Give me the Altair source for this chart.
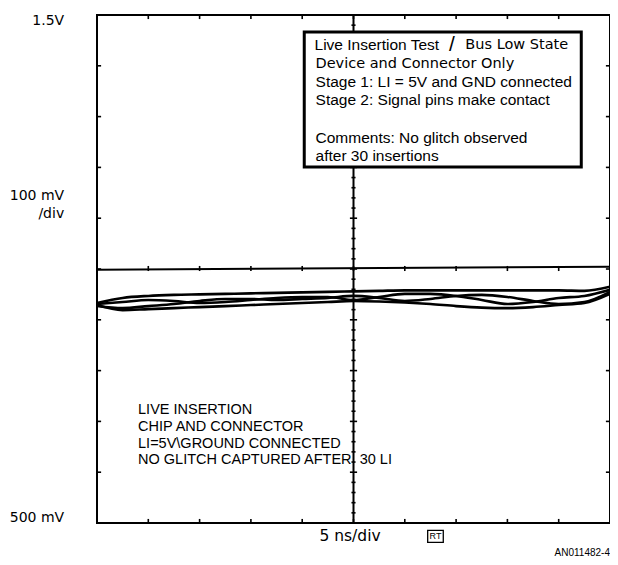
import altair as alt
import pandas as pd

# ---- data (time in ns, level in volts) ----
T_NS = [0, 2.5, 5, 7.5, 10, 12.5, 15, 17.5, 20, 22.5, 25, 27.5, 30, 32.5, 35, 37.5, 40, 42.5, 45, 47.5, 50]
TRACE_A = [0.933, 0.943, 0.947, 0.949, 0.950, 0.951, 0.952, 0.953, 0.954, 0.955, 0.956, 0.957, 0.958, 0.958, 0.958, 0.958, 0.958, 0.958, 0.958, 0.957, 0.965]
TRACE_B = [0.929, 0.919, 0.921, 0.923, 0.925, 0.927, 0.929, 0.931, 0.933, 0.935, 0.937, 0.936, 0.934, 0.931, 0.927, 0.924, 0.923, 0.925, 0.929, 0.933, 0.951]
TRACE_C = [0.931, 0.935, 0.939, 0.937, 0.933, 0.935, 0.939, 0.943, 0.945, 0.945, 0.939, 0.945, 0.951, 0.951, 0.947, 0.939, 0.931, 0.935, 0.943, 0.947, 0.959]
TRACE_D = [0.927, 0.923, 0.927, 0.931, 0.937, 0.941, 0.941, 0.939, 0.941, 0.943, 0.947, 0.943, 0.937, 0.941, 0.947, 0.949, 0.945, 0.937, 0.931, 0.935, 0.955]
TRACE_NAMES = ["A", "B", "C", "D"]

MARKER_T = [0, 50]
MARKER_V = [0.9985, 1.0045]

X_DOMAIN = [0, 50]
Y_DOMAIN = [0.5, 1.5]
X_TICKS = [5, 10, 15, 20, 25, 30, 35, 40, 45]
Y_TICKS = [0.6, 0.7, 0.8, 0.9, 1.0, 1.1, 1.2, 1.3, 1.4]
CENTER_T = 25

BOX_REGULAR = ["Live Insertion Test", "Stage 1: LI = 5V and GND connected",
               "Stage 2: Signal pins make contact", "Comments: No glitch observed",
               "after 30 insertions"]
BOX_THIN = ["Bus Low State", "Device and Connector Only"]
SLASH = "/"
LOWER_TEXT = ["LIVE INSERTION", "CHIP AND CONNECTOR", "LI=5V\\GROUND CONNECTED",
              "NO GLITCH CAPTURED AFTER", "30 LI"]
Y_LABELS = ["1.5V", "100 mV", "/div", "500 mV"]
X_LABEL = "5 ns/div"
FIG_ID = "AN011482-4"

xs = alt.Scale(domain=X_DOMAIN, nice=False, zero=False)
ys = alt.Scale(domain=Y_DOMAIN, nice=False, zero=False)


def X(f):
    return alt.X(f, type="quantitative", scale=xs, axis=None)


def Y(f):
    return alt.Y(f, type="quantitative", scale=ys, axis=None)


# traces
rows = []
for name, vals in zip(TRACE_NAMES, [TRACE_A, TRACE_B, TRACE_C, TRACE_D]):
    for t, v in zip(T_NS, vals):
        rows.append({"t": t, "v": v, "trace": name})
traces_df = pd.DataFrame(rows)

traces = alt.Chart(traces_df).mark_line(
    color="black", strokeWidth=2.6, interpolate="monotone"
).encode(x=X("t"), y=Y("v"), detail="trace:N")

marker = alt.Chart(pd.DataFrame({"t": MARKER_T, "v": MARKER_V})).mark_line(
    color="black", strokeWidth=2
).encode(x=X("t"), y=Y("v"))

center = alt.Chart(pd.DataFrame({"x": [CENTER_T], "y": [Y_DOMAIN[0]], "y2": [Y_DOMAIN[1]]})).mark_rule(
    color="black", strokeWidth=2
).encode(x=X("x"), y=Y("y"), y2="y2")

# graticule ticks
tick_rows = []
dx = 0.4   # ns (~4 px)
dy = 0.008  # V (~4 px)
for t in X_TICKS:
    tick_rows.append({"x": t, "x2": t, "y": Y_DOMAIN[0], "y2": Y_DOMAIN[0] + dy})
    tick_rows.append({"x": t, "x2": t, "y": Y_DOMAIN[1], "y2": Y_DOMAIN[1] - dy})
    tick_rows.append({"x": t, "x2": t, "y": 1.0 - dy / 2, "y2": 1.0 + dy / 2 + 0.002})
for v in Y_TICKS:
    tick_rows.append({"x": X_DOMAIN[0], "x2": X_DOMAIN[0] + dx, "y": v, "y2": v})
    tick_rows.append({"x": X_DOMAIN[1], "x2": X_DOMAIN[1] - dx, "y": v, "y2": v})
for i in range(1, 50):
    v = round(Y_DOMAIN[0] + 0.02 * i, 3)
    w = 0.35 if i % 5 == 0 else 0.2
    tick_rows.append({"x": CENTER_T - w, "x2": CENTER_T + w, "y": v, "y2": v})
ticks = alt.Chart(pd.DataFrame(tick_rows)).mark_rule(color="black", strokeWidth=1.6).encode(
    x=X("x"), x2="x2", y=Y("y"), y2="y2"
)

# annotation box
box = alt.Chart(pd.DataFrame({"x": [20.2], "x2": [47.2], "y": [1.2008], "y2": [1.4665]})).mark_rect(
    fill="white", stroke="black", strokeWidth=3
).encode(x=X("x"), x2="x2", y=Y("y"), y2="y2")

box_reg = pd.DataFrame({
    "x": [21.2, 21.3, 21.3, 21.3, 21.3],
    "y": [1.441, 1.368, 1.3327, 1.2579, 1.2224],
    "text": BOX_REGULAR,
})
box_thin = pd.DataFrame({
    "x": [35.9, 21.3],
    "y": [1.441, 1.4035],
    "text": BOX_THIN,
})
box_text1 = alt.Chart(box_reg).mark_text(
    align="left", baseline="middle", font="Liberation Sans", fontSize=15.5, color="black"
).encode(x=X("x"), y=Y("y"), text="text:N")
box_text2 = alt.Chart(box_thin).mark_text(
    align="left", baseline="middle", font="DejaVu Sans", fontSize=14.5, color="black"
).encode(x=X("x"), y=Y("y"), text="text:N")
slash = alt.Chart(pd.DataFrame({"x": [34.6], "y": [1.441], "text": [SLASH]})).mark_text(
    align="center", baseline="middle", font="Liberation Sans", fontSize=21, color="black"
).encode(x=X("x"), y=Y("y"), text="text:N")

lower_df = pd.DataFrame({
    "x": [4.0, 4.0, 4.0, 4.0, 25.6],
    "y": [0.7224, 0.689, 0.6555, 0.624, 0.624],
    "text": LOWER_TEXT,
})
lower_text = alt.Chart(lower_df).mark_text(
    align="left", baseline="middle", font="Liberation Sans", fontSize=14.5, color="black"
).encode(x=X("x"), y=Y("y"), text="text:N")

ylab_df = pd.DataFrame({"x": [-3.2] * 4, "y": [1.488, 1.1437, 1.1083, 0.5098], "text": Y_LABELS})
ylab = alt.Chart(ylab_df).mark_text(
    align="right", baseline="middle", font="DejaVu Sans", fontSize=14, color="black"
).encode(x=X("x"), y=Y("y"), text="text:N")

xlab = alt.Chart(pd.DataFrame({"x": [24.66], "y": [0.4744], "text": [X_LABEL]})).mark_text(
    align="center", baseline="middle", font="DejaVu Sans", fontSize=15.5, color="black"
).encode(x=X("x"), y=Y("y"), text="text:N")

rt_box = alt.Chart(pd.DataFrame({"x": [32.23], "x2": [33.75], "y": [0.4855], "y2": [0.4620]})).mark_rect(
    fill="white", stroke="black", strokeWidth=1.3
).encode(x=X("x"), x2="x2", y=Y("y"), y2="y2")
rt_text = alt.Chart(pd.DataFrame({"x": [32.99], "y": [0.4737], "text": ["RT"]})).mark_text(
    align="center", baseline="middle", font="Liberation Sans", fontSize=9, color="black"
).encode(x=X("x"), y=Y("y"), text="text:N")

fig_id = alt.Chart(pd.DataFrame({"x": [50.0], "y": [0.441], "text": [FIG_ID]})).mark_text(
    align="right", baseline="middle", font="Liberation Sans", fontSize=10, color="black"
).encode(x=X("x"), y=Y("y"), text="text:N")

chart = alt.layer(
    center, marker, ticks, traces, box, box_text1, box_text2, slash, lower_text,
    ylab, xlab, rt_box, rt_text, fig_id
).properties(
    width=513, height=508,
    padding={"left": 89, "top": 7, "right": 0, "bottom": 34},
    autosize=alt.AutoSizeParams(type="none"),
).configure_view(stroke="black", strokeWidth=2)

chart.save("out.html", embed_options={"renderer": "svg", "actions": False})
